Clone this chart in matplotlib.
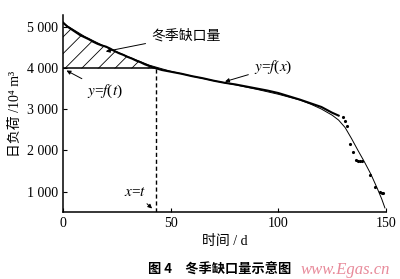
import numpy as np
import matplotlib.pyplot as plt

plt.rcParams["font.family"] = ["Liberation Serif", "Noto Sans CJK SC", "DejaVu Serif"]
plt.rcParams["mathtext.fontset"] = "stix"
plt.rcParams["hatch.linewidth"] = 0.6

day_obs = [0, 2, 4, 6, 8, 10, 12, 14, 16, 18, 20, 22, 24, 26, 28, 30, 32, 34,
           36, 38, 40, 42, 44, 46, 48, 50, 55, 60, 65, 70, 75, 80, 85, 90, 95,
           100, 105, 110, 115, 120, 125, 128]
load_obs = [5120, 5020, 4950, 4880, 4810, 4760, 4710, 4650, 4600, 4560, 4530,
            4480, 4420, 4370, 4330, 4280, 4240, 4190, 4150, 4100, 4060, 4020,
            3990, 3960, 3940, 3920, 3870, 3810, 3760, 3700, 3650, 3610, 3560,
            3510, 3460, 3400, 3320, 3240, 3150, 3060, 2920, 2850]

# scattered points at the end of the season
day_tail = [130, 131, 132, 133.3, 134.7, 136, 137, 138, 139, 142.6, 145, 147,
            148, 148.6]
load_tail = [2810, 2710, 2600, 2160, 1970, 1760, 1750, 1740, 1750, 1400, 1100,
             980, 975, 975]

# fitted curve y=f(x)
day_fit = [0, 10, 20, 30, 40, 50, 60, 70, 80, 90, 100, 105, 110, 115, 120,
           125, 128, 131, 134, 137, 140, 143, 146, 148, 149.5]
load_fit = [5100, 4780, 4520, 4290, 4080, 3930, 3810, 3700, 3600, 3490, 3370,
            3300, 3230, 3130, 3010, 2860, 2740, 2560, 2290, 2000, 1720, 1420,
            1070, 820, 600]

t_cut = 43
level = 4000

fig = plt.figure(figsize=(4.0, 2.79), dpi=100)
ax = fig.add_axes([0.1575, 0.24, 0.8075, 0.706])

ax.plot(day_fit, load_fit, color="black", lw=0.7)
ax.plot(day_obs, load_obs, color="black", lw=1.5)
ax.plot(day_tail, load_tail, ".", color="black", ms=2.5)

# shortage area
x_fill = [d for d in day_obs if d <= t_cut] + [t_cut]
y_fill = [v for d, v in zip(day_obs, load_obs) if d <= t_cut] + [level]
ax.fill_between(x_fill, level, y_fill, facecolor="none", edgecolor="black",
                hatch="//", lw=0)
ax.plot([0, t_cut], [level, level], color="black", lw=1.1)
ax.plot([t_cut, t_cut], [500, level], color="black", lw=1.0, ls=(0, (3, 2)))

arrow = dict(arrowstyle="-|>", color="black", lw=0.7, mutation_scale=6)
ax.annotate("冬季缺口量", xy=(18.6, 4400), xytext=(57, 4800), fontsize=10,
            ha="center", va="center", arrowprops=arrow)
ax.annotate("$y$=$f$($t$)", xy=(0.5, 3980), xytext=(19.5, 3450), fontsize=11,
            ha="center", va="center", arrowprops=arrow)
ax.annotate("$y$=$f$($x$)", xy=(74, 3660), xytext=(97.5, 4025), fontsize=11,
            ha="center", va="center", arrowprops=arrow)
ax.annotate("$x$=$t$", xy=(42.3, 540), xytext=(33.5, 975), fontsize=11,
            ha="center", va="center", arrowprops=arrow)

ax.set_xlim(0, 150)
ax.set_ylim(500, 5300)
ax.set_xticks([0, 50, 100, 150])
ax.set_yticks([1000, 2000, 3000, 4000, 5000])
ax.set_yticklabels(["1 000", "2 000", "3 000", "4 000", "5 000"])
ax.tick_params(direction="in", length=3, width=0.8, labelsize=10)
for s in ["top", "right"]:
    ax.spines[s].set_visible(False)
for s in ["left", "bottom"]:
    ax.spines[s].set_linewidth(1.1)

ax.set_ylabel("日负荷 /10⁴ m³", fontsize=10, labelpad=4)
ax.set_xlabel("时间 / d", fontsize=10, labelpad=4)

fig.text(0.55, 0.032, "图 4　冬季缺口量示意图", fontsize=9.5, fontweight="bold",
         ha="center", va="center", family=["Noto Sans CJK SC"])
fig.text(0.863, 0.032, "www.Egas.cn", fontsize=12, style="italic",
         color="#e88a9a", ha="center", va="center")

fig.savefig("out.png", dpi=100)
